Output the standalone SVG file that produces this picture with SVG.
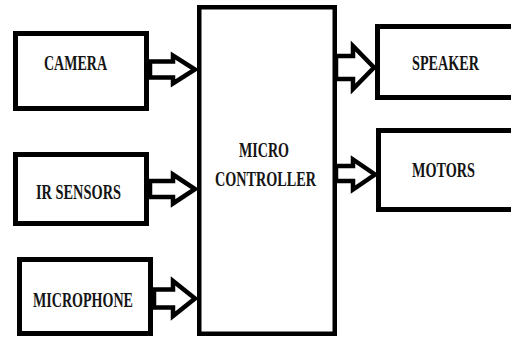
<svg xmlns="http://www.w3.org/2000/svg" width="511" height="337" viewBox="0 0 511 337">
<style>
.box{fill:#fff;stroke:#000;stroke-width:5}
.mc{fill:#fff;stroke:#000;stroke-width:4.5}
.arr{fill:#fff;stroke:#000;stroke-width:4.5;stroke-linejoin:miter}
.lbl{font-family:"Liberation Serif","Times New Roman",serif;font-weight:bold;font-size:22px;fill:#141414;text-anchor:middle}
</style>
<rect width="511" height="337" fill="#fff"/>
<g id="connectors">
<polygon class="arr" points="150,61.5 173,61.5 173,55.5 195,69.5 173,83.5 173,77.5 150,77.5"/>
<polygon class="arr" points="150,181 173,181 173,174.5 195,189 173,203.5 173,197 150,197"/>
<polygon class="arr" points="154,289.5 173,289.5 173,281 195,298.5 173,316 173,307.5 154,307.5"/>
<polygon class="arr" points="336,56 353,56 353,46 374,67.5 353,89 353,79 336,79"/>
<polygon class="arr" points="336,166 353,166 353,159.5 375,174.5 353,189.5 353,181 336,181"/>
</g>
<g id="camera"><rect class="box" x="15.5" y="33.5" width="131" height="75"/><text class="lbl" x="75.5" y="70" textLength="63" lengthAdjust="spacingAndGlyphs">CAMERA</text></g>
<g id="ir-sensors"><rect class="box" x="15.5" y="154.5" width="131" height="69"/><text class="lbl" x="78.5" y="199" textLength="85" lengthAdjust="spacingAndGlyphs">IR SENSORS</text></g>
<g id="microphone"><rect class="box" x="19.5" y="259.5" width="131" height="74"/><text class="lbl" x="83" y="307" textLength="100" lengthAdjust="spacingAndGlyphs">MICROPHONE</text></g>
<g id="microcontroller"><rect class="mc" x="199.25" y="7.25" width="135.5" height="326.5"/><text class="lbl" x="264" y="157" textLength="50" lengthAdjust="spacingAndGlyphs">MICRO</text><text class="lbl" x="265.5" y="186" textLength="101" lengthAdjust="spacingAndGlyphs">CONTROLLER</text></g>
<g id="speaker"><path class="box" d="M511,26.5 H377.5 V97.5 H511"/><text class="lbl" x="445.5" y="70" textLength="67" lengthAdjust="spacingAndGlyphs">SPEAKER</text></g>
<g id="motors"><path class="box" d="M511,130.5 H378.5 V209.5 H511"/><text class="lbl" x="443.5" y="177" textLength="63" lengthAdjust="spacingAndGlyphs">MOTORS</text></g>
</svg>
